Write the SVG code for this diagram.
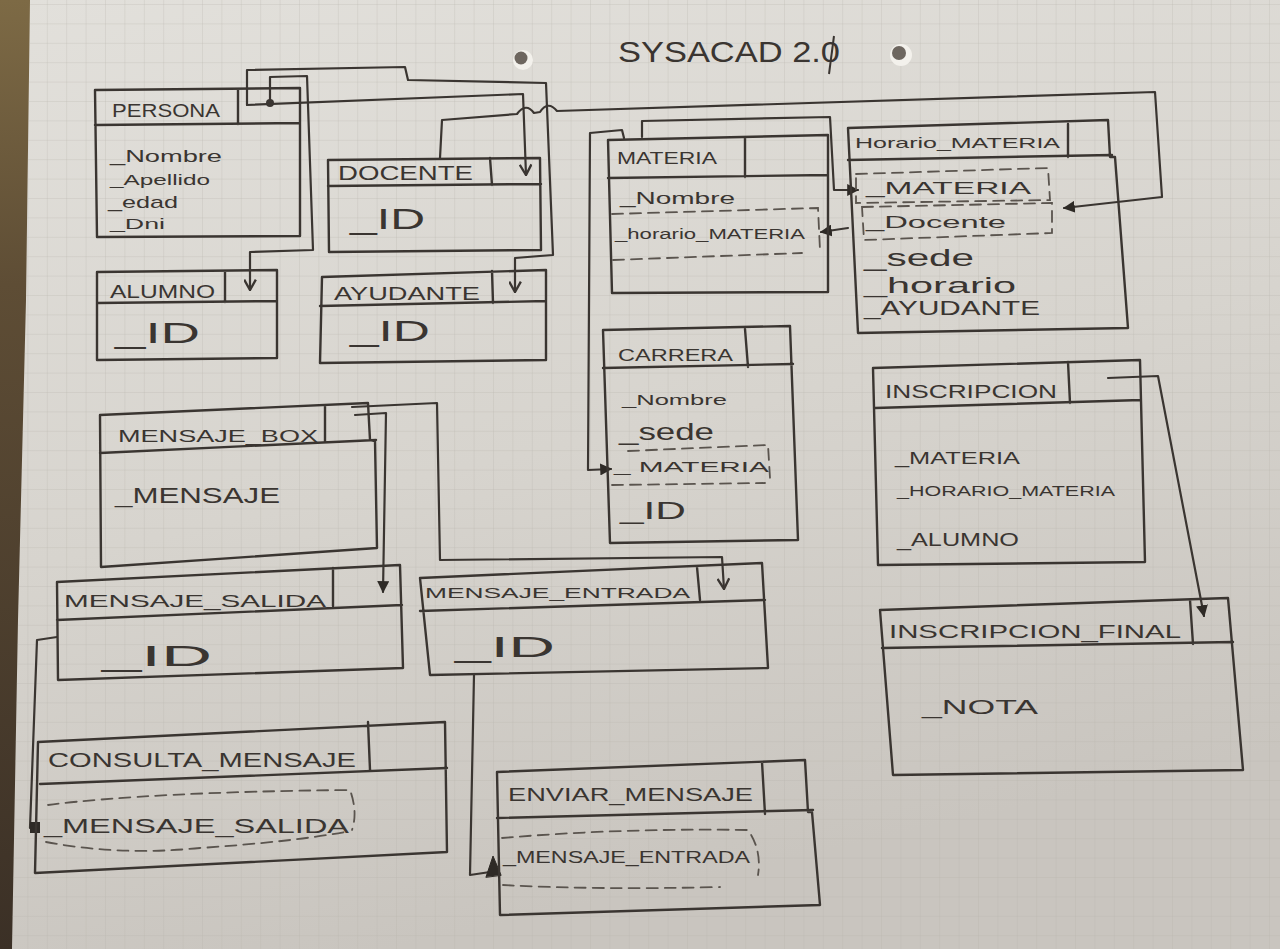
<svg xmlns="http://www.w3.org/2000/svg" width="1280" height="949" viewBox="0 0 1280 949">
  <defs>
    <style>
      .box { fill: none; stroke: #3a3531; stroke-width: 2.4; stroke-linejoin: round; stroke-linecap: round; }
      .dash { fill: none; stroke: #5a544e; stroke-width: 1.8; stroke-dasharray: 11 7; stroke-linecap: round; }
      .t { font-family: "Liberation Sans", Arial, sans-serif; fill: #3a3531; }
      .conn path { fill: none; stroke: #3a3531; stroke-width: 2.2; stroke-linejoin: round; stroke-linecap: round; }
    </style>
    <linearGradient id="paperShade" x1="0" y1="0" x2="0.3" y2="1">
      <stop offset="0" stop-color="#e2e0db"/>
      <stop offset="0.55" stop-color="#d7d4ce"/>
      <stop offset="1" stop-color="#c9c5bf"/>
    </linearGradient>
    <linearGradient id="wood" x1="0" y1="0" x2="0" y2="1">
      <stop offset="0" stop-color="#7d6a45"/>
      <stop offset="0.3" stop-color="#5e4d35"/>
      <stop offset="1" stop-color="#3b3026"/>
    </linearGradient>
    <pattern id="grid" width="19.4" height="19.4" patternUnits="userSpaceOnUse" x="8" y="4">
      <path d="M19.4,0 L0,0 L0,19.4" fill="none" stroke="#b5b1aa" stroke-width="0.9" opacity="0.55"/>
    </pattern>
    <marker id="vee" viewBox="0 0 10 10" refX="9" refY="5" markerWidth="13" markerHeight="13" markerUnits="userSpaceOnUse" orient="auto">
      <path d="M1,0.5 L9,5 L1,9.5" fill="none" stroke="#3a3531" stroke-width="1.8"/>
    </marker>
    <marker id="solid" viewBox="0 0 10 10" refX="9" refY="5" markerWidth="12" markerHeight="12" markerUnits="userSpaceOnUse" orient="auto">
      <path d="M0,0 L10,5 L0,10 Z" fill="#2e2a26"/>
    </marker>
  </defs>

  <!-- desk and sheet -->
  <rect x="0" y="0" width="1280" height="949" fill="url(#wood)"/>
  <polygon points="30,0 1280,0 1280,949 12,949 18,620 26,300" fill="url(#paperShade)"/>
  <polygon points="30,0 1280,0 1280,949 12,949 18,620 26,300" fill="url(#grid)"/>

  <!-- punch holes -->
  <circle cx="523" cy="60" r="10" fill="#f3f1ec"/>
  <circle cx="521" cy="58" r="6.5" fill="#6d665f"/>
  <circle cx="901" cy="55" r="11" fill="#f3f1ec"/>
  <circle cx="899" cy="53" r="7" fill="#6d665f"/>

  <!-- title -->
  <g id="title">
    <text class="t" x="618" y="62" font-size="30" textLength="222" lengthAdjust="spacingAndGlyphs">SYSACAD 2.0</text>
    <path d="M829,74 L834,36" fill="none" stroke="#3a3531" stroke-width="2"/>
  </g>

  <!-- connectors -->
  <g id="connectors" class="conn">
    <!-- Persona to Docente and Ayudante -->
    <path d="M247,105 L523,94 L526,175" marker-end="url(#vee)"/>
    <path d="M247,105 L247,70 L405,67 L408,80 L546,83 L553,255 L515,258 L515,292" marker-end="url(#vee)"/>
    <!-- Persona to Alumno -->
    <path d="M270,103 L270,77 L307,76 L313,250 L250,252 L250,290" marker-end="url(#vee)"/>
    <circle cx="270" cy="103" r="4" fill="#3a3531"/>
    <!-- Docente to Horario_materia._Docente -->
    <path d="M440,158 L442,120 L517,114 Q526,102 534,113 L540,112 Q548,100 557,111 L1155,92 L1162,197 L1064,208" marker-end="url(#solid)"/>
    <!-- Materia to Horario_materia._MATERIA -->
    <path d="M642,137 L642,121 L830,117 L834,190 L858,190" marker-end="url(#solid)"/>
    <!-- Horario_materia to Materia._horario_MATERIA -->
    <path d="M848,228 L821,232" marker-end="url(#solid)"/>
    <!-- Materia to Carrera._MATERIA -->
    <path d="M624,138 L622,130 L590,133 L588,470 L611,469" marker-end="url(#solid)"/>
    <!-- Inscripcion to Inscripcion_final -->
    <path d="M1108,378 L1158,376 L1204,616" marker-end="url(#solid)"/>
    <!-- Mensaje_box to Mensaje_entrada -->
    <path d="M352,407 L437,403 L440,560 L722,557 L724,589" marker-end="url(#vee)"/>
    <!-- Mensaje_box to Mensaje_salida -->
    <path d="M355,415 L386,413 L383,592" marker-end="url(#solid)"/>
    <!-- Mensaje_salida to Consulta_mensaje -->
    <path d="M57,637 L37,640 L30,828 L36,828"/>
    <rect x="30" y="822" width="10" height="11" fill="#2e2a26"/>
    <!-- Mensaje_entrada to Enviar_mensaje -->
    <path d="M474,675 L470,875 L490,872"/>
    <path d="M486,877 L493,856 L501,875 Z" style="fill:#2e2a26; stroke:#2e2a26; stroke-width:1"/>
  </g>

  <!-- PERSONA -->
  <g id="persona">
    <path class="box" d="M95,90 L300,88 L300,236 L97,237 Z M95,125 L300,123 M238,89 L238,124"/>
    <text class="t" x="112" y="117" font-size="19" textLength="108" lengthAdjust="spacingAndGlyphs">PERSONA</text>
    <text class="t" x="110" y="162" font-size="16" textLength="112" lengthAdjust="spacingAndGlyphs">_Nombre</text>
    <text class="t" x="110" y="185" font-size="15" textLength="100" lengthAdjust="spacingAndGlyphs">_Apellido</text>
    <text class="t" x="108" y="208" font-size="17" textLength="70" lengthAdjust="spacingAndGlyphs">_edad</text>
    <text class="t" x="110" y="229" font-size="15" textLength="55" lengthAdjust="spacingAndGlyphs">_Dni</text>
  </g>

  <!-- DOCENTE -->
  <g id="docente">
    <path class="box" d="M328,160 L540,158 L541,250 L329,252 Z M328,186 L541,184 M490,158 L492,185"/>
    <text class="t" x="338" y="180" font-size="20" textLength="135" lengthAdjust="spacingAndGlyphs">DOCENTE</text>
    <text class="t" x="350" y="229" font-size="30" textLength="75" lengthAdjust="spacingAndGlyphs">_ID</text>
  </g>

  <!-- ALUMNO -->
  <g id="alumno">
    <path class="box" d="M97,272 L277,270 L277,358 L97,360 Z M97,303 L277,301 M225,271 L225,302"/>
    <text class="t" x="110" y="298" font-size="18" textLength="105" lengthAdjust="spacingAndGlyphs">ALUMNO</text>
    <text class="t" x="115" y="343" font-size="30" textLength="85" lengthAdjust="spacingAndGlyphs">_ID</text>
  </g>

  <!-- AYUDANTE -->
  <g id="ayudante">
    <path class="box" d="M322,277 L546,270 L546,360 L320,363 Z M320,306 L546,301 M492,271 L493,303"/>
    <text class="t" x="334" y="300" font-size="19" textLength="146" lengthAdjust="spacingAndGlyphs">AYUDANTE</text>
    <text class="t" x="350" y="341" font-size="30" textLength="80" lengthAdjust="spacingAndGlyphs">_ID</text>
  </g>

  <!-- MATERIA -->
  <g id="materia">
    <path class="box" d="M608,140 L828,135 L828,292 L612,293 Z M608,178 L828,175 M745,137 L745,177"/>
    <text class="t" x="617" y="164" font-size="16" textLength="100" lengthAdjust="spacingAndGlyphs">MATERIA</text>
    <text class="t" x="620" y="204" font-size="17" textLength="115" lengthAdjust="spacingAndGlyphs">_Nombre</text>
    <path class="dash" d="M612,214 L818,208 L820,250 M613,260 L802,253"/>
    <text class="t" x="615" y="239" font-size="14" textLength="190" lengthAdjust="spacingAndGlyphs">_horario_MATERIA</text>
  </g>

  <!-- HORARIO_MATERIA -->
  <g id="horario-materia">
    <path class="box" d="M848,128 L1108,120 L1110,157 L1115,157 L1128,328 L858,333 Z M848,160 L1112,155 M1068,124 L1068,157"/>
    <text class="t" x="855" y="148" font-size="15" textLength="205" lengthAdjust="spacingAndGlyphs">Horario_MATERIA</text>
    <path class="dash" d="M856,174 L1048,168 L1050,200 L856,203 Z"/>
    <text class="t" x="866" y="194" font-size="17" textLength="165" lengthAdjust="spacingAndGlyphs">_MATERIA</text>
    <path class="dash" d="M862,207 L1052,203 L1052,233 L864,240 Z"/>
    <text class="t" x="866" y="228" font-size="17" textLength="140" lengthAdjust="spacingAndGlyphs">_Docente</text>
    <text class="t" x="864" y="266" font-size="24" textLength="110" lengthAdjust="spacingAndGlyphs">_sede</text>
    <text class="t" x="864" y="293" font-size="22" textLength="152" lengthAdjust="spacingAndGlyphs">_horario</text>
    <text class="t" x="864" y="315" font-size="20" textLength="176" lengthAdjust="spacingAndGlyphs">_AYUDANTE</text>
  </g>

  <!-- CARRERA -->
  <g id="carrera">
    <path class="box" d="M603,330 L790,326 L798,540 L610,543 Z M603,368 L793,364 M745,329 L748,367"/>
    <text class="t" x="618" y="361" font-size="17" textLength="115" lengthAdjust="spacingAndGlyphs">CARRERA</text>
    <text class="t" x="622" y="405" font-size="15" textLength="105" lengthAdjust="spacingAndGlyphs">_Nombre</text>
    <text class="t" x="619" y="440" font-size="24" textLength="95" lengthAdjust="spacingAndGlyphs">_sede</text>
    <path class="dash" d="M628,451 L768,445 L770,478 M612,485 L765,483"/>
    <text class="t" x="614" y="472" font-size="14" textLength="155" lengthAdjust="spacingAndGlyphs">_ MATERIA</text>
    <text class="t" x="620" y="519" font-size="24" textLength="66" lengthAdjust="spacingAndGlyphs">_ID</text>
  </g>

  <!-- INSCRIPCION -->
  <g id="inscripcion">
    <path class="box" d="M873,368 L1140,360 L1145,562 L878,565 Z M875,408 L1141,400 M1068,362 L1070,403"/>
    <text class="t" x="885" y="398" font-size="18" textLength="172" lengthAdjust="spacingAndGlyphs">INSCRIPCION</text>
    <text class="t" x="895" y="464" font-size="16" textLength="125" lengthAdjust="spacingAndGlyphs">_MATERIA</text>
    <text class="t" x="897" y="496" font-size="15" textLength="218" lengthAdjust="spacingAndGlyphs">_HORARIO_MATERIA</text>
    <text class="t" x="897" y="546" font-size="18" textLength="122" lengthAdjust="spacingAndGlyphs">_ALUMNO</text>
  </g>

  <!-- INSCRIPCION_FINAL -->
  <g id="inscripcion-final">
    <path class="box" d="M880,610 L1228,598 L1243,770 L893,775 Z M882,648 L1233,642 M1190,600 L1193,644"/>
    <text class="t" x="889" y="638" font-size="18" textLength="292" lengthAdjust="spacingAndGlyphs">INSCRIPCION_FINAL</text>
    <text class="t" x="922" y="714" font-size="20" textLength="116" lengthAdjust="spacingAndGlyphs">_NOTA</text>
  </g>

  <!-- MENSAJE_BOX -->
  <g id="mensaje-box">
    <path class="box" d="M100,415 L368,403 L370,440 L375,441 L377,548 L101,567 Z M100,453 L376,440 M325,405 L325,441"/>
    <text class="t" x="118" y="442" font-size="17" textLength="200" lengthAdjust="spacingAndGlyphs">MENSAJE_BOX</text>
    <text class="t" x="115" y="503" font-size="22" textLength="165" lengthAdjust="spacingAndGlyphs">_MENSAJE</text>
  </g>

  <!-- MENSAJE_SALIDA -->
  <g id="mensaje-salida">
    <path class="box" d="M57,582 L400,565 L403,668 L58,680 Z M57,620 L402,605 M333,568 L333,606"/>
    <text class="t" x="64" y="607" font-size="17" textLength="262" lengthAdjust="spacingAndGlyphs">MENSAJE_SALIDA</text>
    <text class="t" x="102" y="666" font-size="30" textLength="110" lengthAdjust="spacingAndGlyphs">_ID</text>
  </g>

  <!-- MENSAJE_ENTRADA -->
  <g id="mensaje-entrada">
    <path class="box" d="M420,578 L762,563 L768,668 L430,675 Z M420,611 L765,600 M697,567 L700,600"/>
    <text class="t" x="425" y="598" font-size="15" textLength="265" lengthAdjust="spacingAndGlyphs">MENSAJE_ENTRADA</text>
    <text class="t" x="455" y="657" font-size="30" textLength="100" lengthAdjust="spacingAndGlyphs">_ID</text>
  </g>

  <!-- CONSULTA_MENSAJE -->
  <g id="consulta-mensaje">
    <path class="box" d="M38,742 L445,722 L447,852 L35,873 Z M40,784 L447,768 M368,722 L370,770"/>
    <text class="t" x="48" y="767" font-size="20" textLength="308" lengthAdjust="spacingAndGlyphs">CONSULTA_MENSAJE</text>
    <path class="dash" d="M48,805 Q150,792 350,790 Q358,812 352,830 M46,842 Q120,856 200,848 Q290,842 345,832"/>
    <text class="t" x="44" y="833" font-size="20" textLength="305" lengthAdjust="spacingAndGlyphs">_MENSAJE_SALIDA</text>
  </g>

  <!-- ENVIAR_MENSAJE -->
  <g id="enviar-mensaje">
    <path class="box" d="M497,772 L805,760 L808,812 L812,812 L820,905 L500,915 Z M497,818 L813,810 M762,762 L765,814"/>
    <text class="t" x="508" y="801" font-size="18" textLength="245" lengthAdjust="spacingAndGlyphs">ENVIAR_MENSAJE</text>
    <path class="dash" d="M502,838 Q620,828 748,830 Q762,850 758,875 M503,885 Q600,890 720,887"/>
    <text class="t" x="503" y="863" font-size="16" textLength="247" lengthAdjust="spacingAndGlyphs">_MENSAJE_ENTRADA</text>
  </g>
</svg>
